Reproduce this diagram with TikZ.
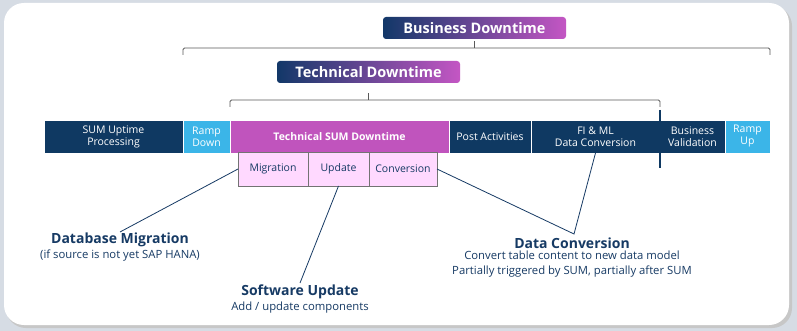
\documentclass[tikz,border=0pt]{standalone}
\usepackage{fontspec}
\setmainfont{Open Sans}
\usetikzlibrary{positioning}
\usetikzlibrary{calc}
\definecolor{navy}{RGB}{15,57,98}
\definecolor{sky}{RGB}{59,181,232}
\definecolor{sumpink}{RGB}{192,84,189}
\definecolor{palepink}{RGB}{255,217,255}
\definecolor{inkblue}{RGB}{22,58,100}
\definecolor{gradleft}{RGB}{18,56,104}
\definecolor{gradright}{RGB}{196,86,196}
\definecolor{bggray}{RGB}{214,220,228}
\tikzset{>=latex}
\tikzset{
  phase/.style={draw=white, line width=0.8pt, outer sep=0pt, fill=navy, text=white, minimum height=33pt,
    inner sep=0pt, align=center, font=\fontsize{10.5}{12}\selectfont},
  ramp/.style={phase, fill=sky},
  subphase/.style={draw=black!55, line width=0.8pt, outer sep=0pt, fill=palepink, text=inkblue, minimum height=34pt,
    inner sep=0pt, font=\fontsize{10.5}{12}\selectfont},
  banner/.style={left color=gradleft, right color=gradright, rounded corners=3pt, text=white,
    minimum width=183pt, minimum height=22pt, inner sep=0pt, font=\bfseries\fontsize{14.5}{15}\selectfont},
  brace/.style={draw=black!65, line width=0.8pt, rounded corners=1.5pt},
  link/.style={draw=inkblue, line width=0.8pt},
  title/.style={text=inkblue, inner sep=0pt, font=\bfseries\fontsize{14}{16}\selectfont},
  note/.style={text=inkblue, inner sep=0pt, align=center, font=\fontsize{11.3}{14.5}\selectfont}
}
\begin{document}
\begin{tikzpicture}[x=1pt,y=-1pt]
    \useasboundingbox (0,0) rectangle (797,331);
    % panel
    \fill[bggray] (0,0) rectangle (797,331);
    \fill[black!22, rounded corners=20pt] (6,6) rectangle (792,328);
    \fill[white, rounded corners=20pt] (4,3) rectangle (789,325);
    % phases
    \node[phase, minimum width=139pt, anchor=north west] (uptime) at (44,120) {SUM Uptime\\Processing};
    \node[ramp, minimum width=47pt, right=0pt of uptime] (rdown) {Ramp\\Down};
    \node[phase, fill=sumpink, minimum width=219pt, right=0pt of rdown, font=\bfseries\fontsize{10.5}{12}\selectfont] (tsd) {Technical SUM Downtime};
    \node[phase, minimum width=82pt, right=0pt of tsd] (post) {Post Activities};
    \node[phase, minimum width=129pt, right=0pt of post] (fiml) {FI \& ML\\Data Conversion};
    \node[phase, minimum width=65pt, right=0pt of fiml] (bval) {Business\\Validation};
    \node[ramp, minimum width=45pt, right=0pt of bval] (rup) {Ramp\\Up};
    \draw[navy, line width=1.2pt] ([yshift=10pt]bval.north west) -- ([yshift=-15pt]bval.south west);
    % SUM steps
    \node[subphase, minimum width=70pt, anchor=north west] (mig) at (238,152) {Migration};
    \node[subphase, minimum width=61pt, right=0pt of mig] (upd) {Update};
    \node[subphase, minimum width=68pt, right=0pt of upd] (conv) {Conversion};
    % banners and braces
    \node[banner] (bdt) at (474.5,28) {Business Downtime};
    \node[banner] (tdt) at (368.5,72) {Technical Downtime};
    \draw[brace] (rdown.north west |- 0,55) -- (rdown.north west |- 0,48) -- (rup.north east |- 0,48) -- (rup.north east |- 0,55);
    \draw[brace] (bdt.south |- 0,48) -- (bdt.south |- 0,41);
    \draw[brace] (tsd.north west |- 0,107) -- (tsd.north west |- 0,100) -- (bval.north west |- 0,100) -- (bval.north west |- 0,107);
    \draw[brace] (tdt.south |- 0,100) -- (tdt.south |- 0,93);
    % callouts
    \node[title, anchor=north] (dbm) at (120,233) {Database Migration};
    \node[note, below=2pt of dbm] (dbmnote) {(if source is not yet SAP HANA)};
    \node[title, anchor=north] (swu) at (300,285) {Software Update};
    \node[note, below=2pt of swu] (swunote) {Add / update components};
    \node[title, anchor=north] (dcv) at (572,238) {Data Conversion};
    \node[note, below=2pt of dcv] (dcvnote) {Convert table content to new data model\\Partially triggered by SUM, partially after SUM};
    \coordinate (dctip) at ($(dcv.north)+(2,-4)$);
    \draw[link] (mig.west) -- ([yshift=1pt]dbm.north);
    \draw[link] (upd.south) -- ([yshift=2pt]swu.north);
    \draw[link] (conv.east) -- (dctip) -- (fiml.south);
\end{tikzpicture}
\end{document}
